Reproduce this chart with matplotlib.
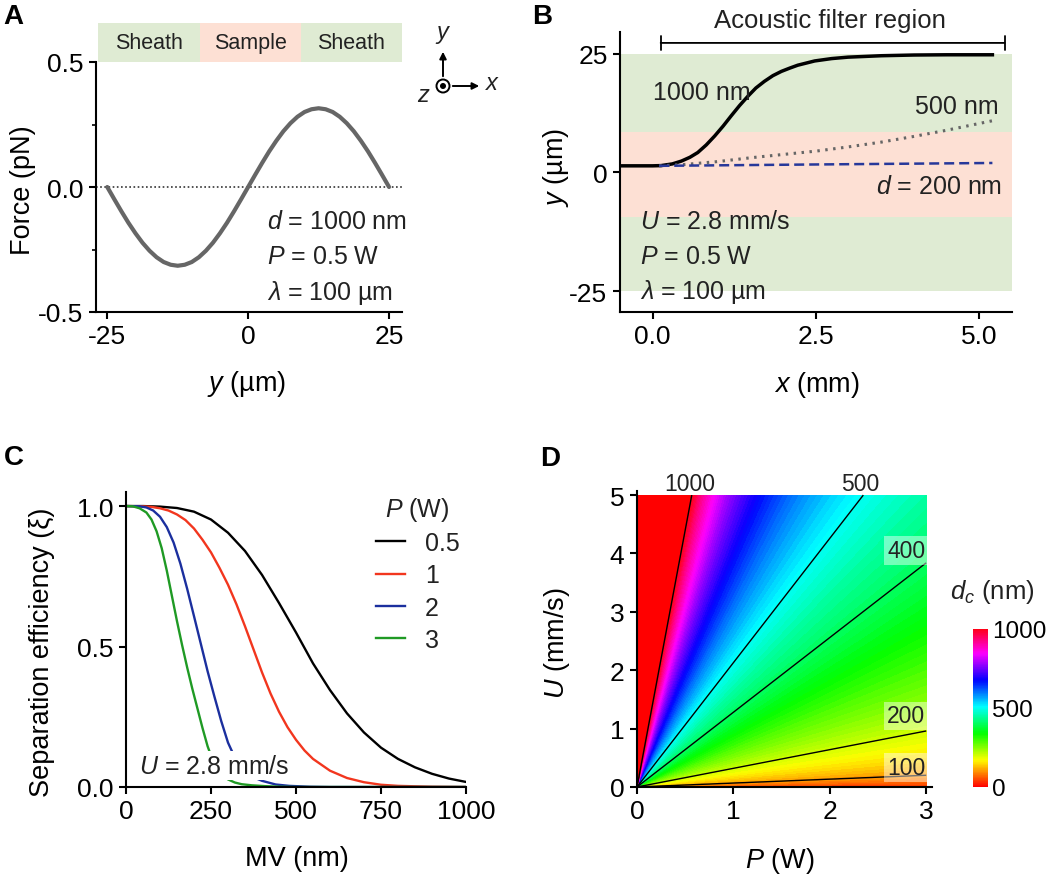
import numpy as np
import matplotlib
matplotlib.use('Agg')
import matplotlib as mpl
from matplotlib import pyplot as plt
from matplotlib.patches import Circle, Rectangle

plt.rcParams['font.family'] = ['Liberation Sans', 'DejaVu Sans']
plt.rcParams['mathtext.fontset'] = 'custom'
plt.rcParams['mathtext.rm'] = 'Liberation Sans'
plt.rcParams['mathtext.it'] = 'Liberation Sans:italic'
plt.rcParams['axes.linewidth'] = 1.5
plt.rcParams['xtick.major.width'] = 1.5
plt.rcParams['ytick.major.width'] = 1.5
plt.rcParams['xtick.major.size'] = 5
plt.rcParams['ytick.major.size'] = 5
plt.rcParams['text.color'] = '#222222'

# ---- A: force across the channel (d = 1000 nm)
pos_a = np.linspace(-25, 25, 41)
force_a = [0.0, -0.049, -0.097, -0.143, -0.185, -0.223, -0.255, -0.281, -0.300, -0.311,
           -0.315, -0.311, -0.300, -0.281, -0.255, -0.223, -0.185, -0.143, -0.097, -0.049,
           0.0, 0.049, 0.097, 0.143, 0.185, 0.223, 0.255, 0.281, 0.300, 0.311,
           0.315, 0.311, 0.300, 0.281, 0.255, 0.223, 0.185, 0.143, 0.097, 0.049, 0.0]
zonas = ['Sheath', 'Sample', 'Sheath']

# ---- B: trajectories
x_1000 = [-0.5, 0.0, 0.13, 0.3, 0.44, 0.57, 0.69, 0.82, 0.95, 1.08, 1.2, 1.33, 1.46, 1.58,
          1.71, 1.84, 1.97, 2.1, 2.22, 2.48, 2.74, 2.99, 3.5, 4.0, 4.5, 5.2]
y_1000 = [1.4, 1.4, 1.45, 1.8, 2.4, 3.2, 4.2, 5.8, 7.7, 9.8, 11.9, 14.1, 16.1, 17.8,
          19.2, 20.4, 21.3, 22.0, 22.6, 23.5, 24.0, 24.3, 24.6, 24.75, 24.8, 24.8]
x_500 = [0.1, 0.5, 1.0, 1.5, 2.0, 2.5, 3.0, 3.5, 4.0, 4.5, 5.2]
y_500 = [1.4, 1.7, 2.3, 3.1, 3.8, 4.5, 5.4, 6.4, 7.6, 8.9, 10.9]
x_200 = [0.1, 2.6, 5.2]
y_200 = [1.4, 1.7, 2.0]

# ---- C: separation efficiency
mv_05 = [0, 50, 100, 150, 200, 250, 300, 350, 400, 450, 500, 550, 600, 650, 700, 750, 800, 850, 900, 950, 1000]
xi_05 = [1.0, 1.0, 0.998, 0.993, 0.98, 0.952, 0.905, 0.84, 0.755, 0.655, 0.55, 0.44, 0.345, 0.262,
         0.194, 0.14, 0.1, 0.07, 0.047, 0.03, 0.018]
mv_1 = [0, 50, 75, 100, 125, 150, 175, 200, 225, 250, 275, 300, 325, 350, 375, 400, 425, 450, 475,
        500, 525, 550, 600, 650, 700, 750, 800, 900, 1000]
xi_1 = [1.0, 0.999, 0.997, 0.992, 0.984, 0.97, 0.95, 0.92, 0.88, 0.835, 0.78, 0.72, 0.65, 0.572, 0.49,
        0.408, 0.333, 0.268, 0.213, 0.168, 0.13, 0.1, 0.058, 0.032, 0.017, 0.008, 0.004, 0.001, 0.0]
mv_2 = [0, 40, 60, 80, 100, 120, 140, 160, 180, 200, 220, 240, 260, 280, 300, 320, 340, 360, 380,
        400, 440, 480, 540, 600, 1000]
xi_2 = [1.0, 0.999, 0.995, 0.984, 0.962, 0.925, 0.87, 0.795, 0.705, 0.608, 0.51, 0.412, 0.322, 0.235,
        0.158, 0.105, 0.07, 0.047, 0.032, 0.022, 0.009, 0.004, 0.001, 0.0, 0.0]
mv_3 = [0, 20, 40, 60, 75, 90, 105, 120, 135, 150, 165, 180, 195, 210, 225, 240, 255, 270, 285, 300,
        320, 340, 370, 410, 450, 500, 1000]
xi_3 = [1.0, 0.999, 0.992, 0.977, 0.952, 0.91, 0.85, 0.77, 0.68, 0.59, 0.505, 0.425, 0.35, 0.28, 0.21,
        0.145, 0.095, 0.062, 0.04, 0.027, 0.016, 0.01, 0.006, 0.003, 0.001, 0.0, 0.0]
potencias = ['0.5', '1', '2', '3']
colores_c = ['black', '#f2361e', '#1b2f9e', '#1f9a24']

# ---- D: critical diameter vs U/P
ratio_read = [0.0, 0.067, 0.32, 1.28, 2.13, 8.8, 20.0]
dc_read = [0, 100, 200, 400, 500, 1000, 1500]
niveles = [100, 200, 400, 500, 1000]

verde = '#dfebd3'
rosa = '#fde0d4'

fig = plt.figure(figsize=(10.5, 8.78), dpi=100)
W, H = 1050.0, 878.0


def caja(l, t, r, b):
    return [l / W, 1 - b / H, (r - l) / W, (b - t) / H]


def limpiar(ax):
    ax.spines['top'].set_visible(False)
    ax.spines['right'].set_visible(False)
    ax.tick_params(direction='out', labelsize=19, pad=4)


# ---------------- A
axA = fig.add_axes(caja(96, 63, 402, 313))
limpiar(axA)
axA.plot(pos_a, force_a, color='#666666', lw=3, solid_capstyle='round', zorder=3)
axA.axhline(0, color='#333333', lw=1.2, ls=(0, (1, 1.5)), zorder=2)
axA.set_xlim(-27, 27.3)
axA.set_ylim(-0.5, 0.5)
axA.set_xticks([-25, 0, 25])
axA.set_yticks([-0.5, 0.0, 0.5])
axA.set_yticks([-0.25, 0.25], minor=True)
axA.tick_params(which='minor', length=3, width=1.2)
axA.set_yticklabels(['-0.5', '0.0', '0.5'])
axA.set_xticklabels(['-25', '0', '25'])
axA.set_ylabel('Force (pN)', fontsize=19.5)
axA.set_xlabel('$y$ (µm)', fontsize=19.5)
axA.yaxis.set_label_coords(-0.195, 0.49)
axA.xaxis.set_label_coords(0.493, -0.225)
bordes = [-26.6, -8.63, 9.33, 27.3]
for i, nombre in enumerate(zonas):
    c = verde if nombre == 'Sheath' else rosa
    axA.add_patch(Rectangle((bordes[i], 0.5), bordes[i + 1] - bordes[i], 0.156,
                            facecolor=c, edgecolor='none', clip_on=False))
    axA.text((bordes[i] + bordes[i + 1]) / 2, 0.578, nombre, ha='center', va='center',
             fontsize=15.5, clip_on=False)
for j, t in enumerate(['$d$ = 1000 nm', '$P$ = 0.5 W', '$λ$ = 100 µm']):
    axA.text(3.3, -0.136 - j * 0.142, t, fontsize=18, va='center')

# ---------------- B
axB = fig.add_axes(caja(620, 33, 1012, 313))
limpiar(axB)
axB.set_xlim(-0.5, 5.5)
axB.set_ylim(-29.4, 29.6)
axB.axhspan(-25, 25, color=verde, lw=0, zorder=0)
axB.axhspan(-9.4, 8.5, color=rosa, lw=0, zorder=0)
axB.plot(x_1000, y_1000, color='black', lw=2.5, zorder=3)
axB.plot(x_500, y_500, color='#666666', lw=2.2, ls=(0, (0.8, 1.8)), zorder=3)
axB.plot(x_200, y_200, color='#27389a', lw=1.8, ls=(0, (4, 2)), zorder=3)
axB.set_xticks([0, 2.5, 5.0])
axB.set_xticklabels(['0.0', '2.5', '5.0'])
axB.set_yticks([-25, 0, 25])
axB.set_yticklabels(['-25', '0', '25'])
axB.set_ylabel('$y$ (µm)', fontsize=19.5)
axB.set_xlabel('$x$ (mm)', fontsize=19.5)
axB.yaxis.set_label_coords(-0.125, 0.52)
axB.xaxis.set_label_coords(0.503, -0.205)
axB.annotate('', xy=(0.08, 27.3), xytext=(5.43, 27.3),
             arrowprops=dict(arrowstyle='|-|', lw=1.3, color='black', mutation_scale=5),
             annotation_clip=False)
axB.text(2.72, 32.2, 'Acoustic filter region', ha='center', va='center', fontsize=18.5, clip_on=False)
axB.text(0.0, 17.0, '1000 nm', fontsize=18, va='center', ha='left')
axB.text(5.3, 14.0, '500 nm', fontsize=18, va='center', ha='right')
axB.text(5.35, -2.8, '$d$ = 200 nm', fontsize=18, va='center', ha='right')
for j, t in enumerate(['$U$ = 2.8 mm/s', '$P$ = 0.5 W', '$λ$ = 100 µm']):
    axB.text(-0.2, -10.3 - j * 7.3, t, fontsize=18, va='center')

# ---------------- C
axC = fig.add_axes(caja(126, 493, 466, 788))
limpiar(axC)
series_c = [(mv_05, xi_05), (mv_1, xi_1), (mv_2, xi_2), (mv_3, xi_3)]
for (mv, xi), lab, col in zip(series_c, potencias, colores_c):
    axC.plot(mv, xi, color=col, lw=1.7, label=lab, zorder=2)
axC.set_xlim(0, 1000)
axC.set_ylim(0, 1.05)
axC.set_xticks([0, 250, 500, 750, 1000])
axC.set_yticks([0.0, 0.5, 1.0])
axC.set_yticklabels(['0.0', '0.5', '1.0'])
axC.set_ylabel('Separation efficiency (ξ)', fontsize=19.5)
axC.set_xlabel('MV (nm)', fontsize=19.5)
axC.yaxis.set_label_coords(-0.21, 0.46)
axC.xaxis.set_label_coords(0.503, -0.195)
leg = axC.legend(title='$P$ (W)', frameon=False, loc='upper left', bbox_to_anchor=(0.735, 0.99),
                 fontsize=18, title_fontsize=18, handlelength=1.15, handletextpad=0.8,
                 labelspacing=0.33, borderpad=0, borderaxespad=0)
axC.text(38, 0.076, '$U$ = 2.8 mm/s', fontsize=18, va='center', ha='left', zorder=5,
         bbox=dict(facecolor='white', edgecolor='none', pad=2))

# ---------------- D
axD = fig.add_axes(caja(637, 492, 932, 788))
limpiar(axD)
cmap = mpl.colormaps['hsv'].copy()
cmap.set_over('red')
P_grid = np.linspace(0.001, 3, 400)
U_grid = np.linspace(0, 5, 400)
PP, UU = np.meshgrid(P_grid, U_grid)
dc = np.interp(np.sqrt(UU / PP), np.sqrt(ratio_read), dc_read)
axD.contourf(PP, UU, dc, levels=np.linspace(0, 1000, 101), cmap=cmap, extend='max', zorder=0)
axD.contour(PP, UU, dc, levels=niveles, colors='black', linewidths=1, zorder=1)
axD.set_xlim(0, 3.06)
axD.set_ylim(0, 5.07)
axD.set_xticks([0, 1, 2, 3])
axD.set_yticks([0, 1, 2, 3, 4, 5])
axD.set_xlabel('$P$ (W)', fontsize=19.5)
axD.set_ylabel('$U$ (mm/s)', fontsize=19.5)
axD.yaxis.set_label_coords(-0.22, 0.49)
axD.xaxis.set_label_coords(0.485, -0.195)
axD.text(0.55, 5.19, '1000', ha='center', va='center', fontsize=16.5, clip_on=False)
axD.text(2.32, 5.19, '500', ha='center', va='center', fontsize=16.5, clip_on=False)
for val, uy in [(400, 4.05), (200, 1.22), (100, 0.33)]:
    axD.text(2.99, uy, str(val), ha='right', va='center', fontsize=16.5, zorder=4,
             bbox=dict(facecolor='white', edgecolor='none', alpha=0.45, pad=2))

cax = fig.add_axes(caja(973, 630, 988, 788))
sm = mpl.cm.ScalarMappable(norm=mpl.colors.Normalize(0, 1000), cmap=cmap)
cb = fig.colorbar(sm, cax=cax, ticks=[0, 500, 1000])
cb.outline.set_visible(False)
cax.tick_params(length=0, labelsize=17.5, pad=3)
fig.text(992 / W, 1 - 592 / H, '$d_c$ (nm)', ha='center', va='center', fontsize=18.5)

# ---------------- letters and axis symbol
for letra, px, py in [('A', 13, 17), ('B', 542, 17), ('C', 14, 458), ('D', 550, 459)]:
    fig.text(px / W, 1 - py / H, letra, fontsize=20, fontweight='bold', ha='center', va='center',
             color='black')

ax0 = fig.add_axes([0, 0, 1, 1])
ax0.set_xlim(0, W)
ax0.set_ylim(H, 0)
ax0.axis('off')
ax0.patch.set_visible(False)
ax0.add_patch(Circle((443, 87), 6.5, facecolor='none', edgecolor='black', lw=1.4))
ax0.add_patch(Circle((443, 87), 3, facecolor='black', edgecolor='none'))
ax0.annotate('', xy=(443, 50), xytext=(443, 80),
             arrowprops=dict(arrowstyle='-|>', lw=1.4, color='black', mutation_scale=10))
ax0.annotate('', xy=(482, 87), xytext=(450, 87),
             arrowprops=dict(arrowstyle='-|>', lw=1.4, color='black', mutation_scale=10))
ax0.text(443, 35, '$y$', fontsize=17, ha='center', va='center')
ax0.text(493, 84, '$x$', fontsize=17, ha='center', va='center')
ax0.text(424, 96, '$z$', fontsize=17, ha='center', va='center')

fig.savefig('out.png', dpi=100)
